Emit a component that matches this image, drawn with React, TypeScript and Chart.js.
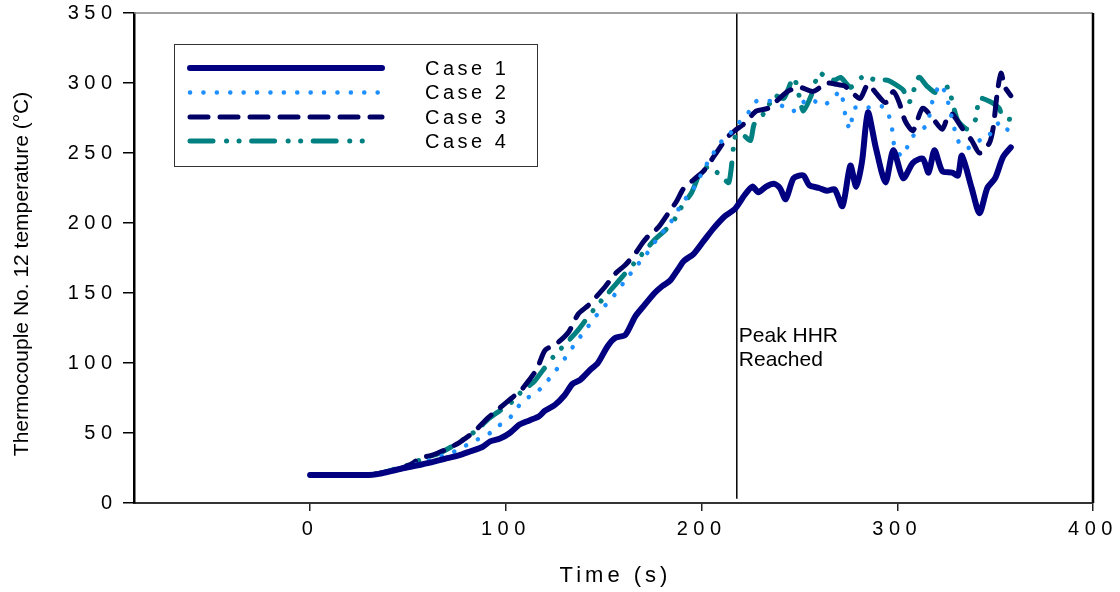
import React, { useEffect, useRef } from "react";
import { Chart, registerables } from "chart.js";

Chart.register(...registerables);

// ---------- data ----------
const case1Time = [0, 10, 20, 30, 36, 42, 48, 55, 62, 70, 76, 82, 88, 92, 97, 102, 107, 112, 117, 120, 125, 130, 134, 138, 143, 147, 152, 156, 161, 166, 170, 176, 180, 184, 188, 191, 196, 201, 206, 212, 217, 222, 226, 229, 233, 237, 240, 243, 247, 252, 255, 260, 264, 268, 272, 276, 279, 282, 285, 289, 294, 298, 303, 308, 313, 316, 319, 323, 328, 331, 333, 338, 342, 346, 350, 354, 358];
const case1Temp = [20, 20, 20, 20, 21, 23, 25, 27, 29, 32, 34, 37, 40, 44, 46, 50, 56, 59, 62, 66, 70, 77, 85, 88, 95, 100, 112, 118, 120, 133, 140, 150, 155, 159, 167, 173, 178, 187, 196, 205, 210, 220, 226, 222, 226, 228, 225, 217, 232, 234, 227, 225, 223, 224, 212, 241, 226, 244, 279, 254, 229, 252, 232, 243, 246, 236, 252, 237, 236, 234, 248, 225, 207, 225, 232, 247, 254];

const case2Time = [0, 10, 20, 30, 38, 45, 52, 60, 68, 76, 83, 90, 96, 100, 104, 107, 112, 118, 124, 130, 136, 142, 148, 154, 160, 166, 172, 178, 184, 190, 196, 203, 210, 214, 218, 223, 228, 232, 237, 242, 247, 251, 255, 262, 267, 271, 274, 276, 278, 284, 289, 294, 297, 299, 303, 305, 308, 315, 318, 322, 325, 327, 331, 335, 338, 342, 346, 349, 353, 356, 359];
const case2Temp = [20, 20, 20, 20, 22, 24, 27, 30, 34, 38, 44, 48, 55, 58, 64, 70, 76, 82, 92, 103, 115, 126, 137, 146, 157, 168, 178, 190, 200, 214, 225, 243, 258, 263, 270, 277, 287, 287, 287, 283, 280, 285, 289, 284, 289, 294, 273, 267, 282, 282, 284, 282, 270, 252, 248, 254, 262, 270, 287, 299, 291, 280, 259, 253, 255, 259, 260, 268, 272, 267, 265];

const case3Time = [0, 10, 20, 30, 38, 45, 52, 56, 62, 69, 76, 83, 91, 97, 103, 108, 112, 116, 120, 126, 132, 137, 142, 146, 151, 156, 161, 166, 170, 173, 178, 183, 187, 191, 196, 201, 207, 213, 217, 221, 225, 228, 234, 239, 244, 250, 257, 264, 269, 273, 277, 281, 285, 289, 294, 298, 301, 304, 308, 313, 318, 323, 326, 328, 333, 338, 342, 347, 349, 351, 353, 355, 358];
const case3Temp = [20, 20, 20, 20, 22, 24, 28, 32, 34, 38, 43, 50, 61, 68, 75, 81, 88, 96, 109, 114, 122, 135, 141, 147, 155, 164, 170, 178, 186, 191, 197, 207, 215, 225, 231, 237, 249, 261, 266, 270, 276, 280, 282, 288, 294, 297, 294, 300, 299, 298, 293, 289, 299, 293, 286, 294, 286, 273, 266, 282, 275, 267, 277, 278, 268, 259, 250, 257, 268, 292, 307, 297, 291];

const case4Time = [0, 10, 20, 30, 38, 45, 52, 58, 65, 72, 80, 86, 91, 97, 103, 109, 114, 119, 124, 130, 136, 141, 146, 151, 156, 161, 166, 171, 176, 180, 185, 190, 195, 200, 204, 208, 211, 214, 217, 219, 222, 225, 227, 233, 237, 242, 247, 250, 252, 256, 260, 264, 268, 271, 276, 279, 283, 289, 295, 299, 303, 306, 311, 315, 320, 326, 328, 331, 336, 340, 342, 347, 352, 354, 358];
const case4Temp = [20, 20, 20, 20, 22, 25, 28, 32, 35, 40, 47, 53, 60, 66, 72, 81, 86, 95, 104, 113, 122, 131, 140, 148, 156, 164, 172, 180, 188, 193, 200, 212, 222, 238, 240, 236, 232, 229, 261, 264, 262, 259, 271, 280, 291, 289, 304, 290, 280, 291, 307, 304, 302, 304, 297, 300, 305, 302, 302, 299, 295, 286, 304, 298, 293, 297, 287, 273, 267, 274, 289, 287, 282, 275, 274];

const peakTime = 218;
const peakLineTemps = [3, 350];
const peakLabelTemp = 115;

const seriesLabels = ["Case 1", "Case 2", "Case 3", "Case 4"];
const xTickValues = [0, 100, 200, 300, 400];
const xMin = -90;
const xMax = 400;
const yMin = 0;
const yMax = 350;
const yStep = 50;
const xTitle = "Time (s)";
const yTitle = "Thermocouple No. 12 temperature (°C)";
const annotationLines = ["Peak HHR", "Reached"];

// ---------- styles ----------
const FONT = 'Arial, "Liberation Sans", Helvetica, sans-serif';
const colors = ["#000080", "#1E8FFF", "#000066", "#008080"];
const widths = [6, 4.5, 5, 5];
const dashes: number[][] = [[], [0.1, 13.3], [18, 12], [23, 13.5, 0.1, 12.4, 0.1, 12.5]];

const toPoints = (t: number[], v: number[]) => t.map((x, i) => ({ x, y: v[i] }));

const decorPlugin = {
  id: "decor",
  beforeDraw(chart: any) {
    chart.ctx.letterSpacing = "5.5px";
  },
  afterDraw(chart: any) {
    const ctx = chart.ctx as CanvasRenderingContext2D;
    const { left, right, top, bottom } = chart.chartArea;
    const xs = chart.scales.x;
    const ys = chart.scales.y;
    ctx.save();
    // top border (gray) and right border (black)
    ctx.strokeStyle = "#808080";
    ctx.lineWidth = 1.5;
    ctx.beginPath();
    ctx.moveTo(left, top);
    ctx.lineTo(right, top);
    ctx.stroke();
    ctx.strokeStyle = "#000";
    ctx.lineWidth = 2.5;
    ctx.beginPath();
    ctx.moveTo(right, top);
    ctx.lineTo(right, bottom);
    ctx.stroke();

    // annotation
    (ctx as any).letterSpacing = "0px";
    ctx.fillStyle = "#000";
    ctx.font = `21px ${FONT}`;
    ctx.textAlign = "left";
    ctx.textBaseline = "alphabetic";
    const ax = xs.getPixelForValue(peakTime) + 2;
    const ay = ys.getPixelForValue(peakLabelTemp);
    annotationLines.forEach((s, i) => ctx.fillText(s, ax, ay + i * 24));

    // y title
    ctx.save();
    ctx.translate(22, 274);
    ctx.rotate(-Math.PI / 2);
    ctx.font = `21px ${FONT}`;
    ctx.textAlign = "center";
    ctx.textBaseline = "middle";
    ctx.fillText(yTitle, 0, 0);
    ctx.restore();

    // x title
    (ctx as any).letterSpacing = "4px";
    ctx.font = `22px ${FONT}`;
    ctx.textAlign = "center";
    ctx.textBaseline = "middle";
    ctx.fillText(xTitle, (left + right) / 2 + 2, 576);

    // legend
    (ctx as any).letterSpacing = "0px";
    ctx.strokeStyle = "#333";
    ctx.lineWidth = 1;
    ctx.strokeRect(174.5, 44.5, 363, 122);
    const rowY = [68, 92.5, 117, 141];
    seriesLabels.forEach((lab, i) => {
      ctx.save();
      ctx.strokeStyle = colors[i];
      ctx.lineWidth = widths[i];
      ctx.lineCap = "round";
      ctx.setLineDash(dashes[i]);
      ctx.beginPath();
      ctx.moveTo(190, rowY[i]);
      ctx.lineTo(i === 3 ? 372 : 382, rowY[i]);
      ctx.stroke();
      ctx.restore();
      (ctx as any).letterSpacing = "3.5px";
      ctx.fillStyle = "#000";
      ctx.font = `20px ${FONT}`;
      ctx.textAlign = "left";
      ctx.textBaseline = "middle";
      ctx.fillText(lab, 425, rowY[i] + 1);
    });
    ctx.restore();
    (ctx as any).letterSpacing = "0px";
  },
};

export default function App() {
  const canvasRef = useRef<HTMLCanvasElement | null>(null);

  useEffect(() => {
    const canvas = canvasRef.current;
    if (!canvas) return;
    const allTimes = [case1Time, case2Time, case3Time, case4Time];
    const allTemps = [case1Temp, case2Temp, case3Temp, case4Temp];
    const datasets: any[] = seriesLabels.map((label, i) => ({
      label,
      data: toPoints(allTimes[i], allTemps[i]),
      borderColor: colors[i],
      backgroundColor: colors[i],
      borderWidth: widths[i],
      borderDash: dashes[i],
      borderCapStyle: "round",
      borderJoinStyle: "round",
      pointRadius: 0,
      tension: 0.25,
      fill: false,
    }));
    datasets.push({
      label: "Peak HHR",
      data: peakLineTemps.map((y) => ({ x: peakTime, y })),
      borderColor: "#000",
      borderWidth: 1.5,
      pointRadius: 0,
      fill: false,
    });

    const chart = new Chart(canvas, {
      type: "line",
      data: { datasets },
      options: {
        animation: false,
        responsive: false,
        devicePixelRatio: 1,
        layout: { padding: { left: 0, top: 13, right: 27, bottom: 0 } },
        plugins: { legend: { display: false }, tooltip: { enabled: false } },
        scales: {
          x: {
            type: "linear",
            min: xMin,
            max: xMax,
            afterBuildTicks: (scale: any) => {
              scale.ticks = xTickValues.map((value) => ({ value }));
            },
            afterFit: (scale: any) => {
              scale.height = 89;
              scale.paddingLeft = 0;
              scale.paddingRight = 0;
            },
            grid: { drawOnChartArea: false, drawTicks: true, tickLength: 8, color: "#222", lineWidth: 1.5 },
            border: { display: true, color: "#333", width: 2 },
            ticks: {
              color: "#000",
              font: { family: FONT, size: 20 },
              padding: 6,
              maxRotation: 0,
              autoSkip: false,
            },
          },
          y: {
            type: "linear",
            min: yMin,
            max: yMax,
            afterFit: (scale: any) => {
              scale.width = 134;
              scale.paddingTop = 0;
              scale.paddingBottom = 0;
            },
            grid: { drawOnChartArea: false, drawTicks: true, tickLength: 11, color: "#000", lineWidth: 1.5 },
            border: { display: true, color: "#000", width: 2.5 },
            ticks: {
              stepSize: yStep,
              color: "#000",
              font: { family: FONT, size: 20 },
              padding: 5.5,
            },
          },
        },
      },
      plugins: [decorPlugin],
    } as any);
    return () => chart.destroy();
  }, []);

  return (
    <div style={{ position: "fixed", left: 0, top: 0, width: 1120, height: 592, background: "#fff" }}>
      <canvas ref={canvasRef} width={1120} height={592} style={{ width: 1120, height: 592, display: "block" }} />
    </div>
  );
}
